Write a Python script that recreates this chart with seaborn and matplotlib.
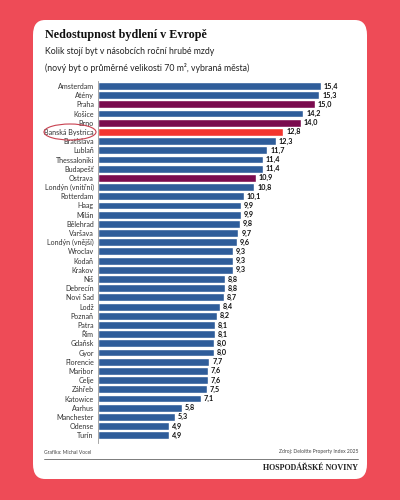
import pandas as pd
import seaborn as sns
import matplotlib.pyplot as plt
from matplotlib.patches import FancyBboxPatch, Ellipse
from matplotlib.lines import Line2D

cities = ['Amsterdam', 'Atény', 'Praha', 'Košice', 'Brno', 'Banská Bystrica',
          'Bratislava', 'Lublaň', 'Thessaloniki', 'Budapešť', 'Ostrava',
          'Londýn (vnitřní)', 'Rotterdam', 'Haag', 'Milán', 'Bělehrad', 'Varšava',
          'Londýn (vnější)', 'Wroclav', 'Kodaň', 'Krakov', 'Niš', 'Debrecín',
          'Novi Sad', 'Lodž', 'Poznaň', 'Patra', 'Řím', 'Gdaňsk', 'Gyor',
          'Florencie', 'Maribor', 'Celje', 'Záhřeb', 'Katowice', 'Aarhus',
          'Manchester', 'Odense', 'Turín']
values = [15.4, 15.3, 15.0, 14.2, 14.0, 12.8, 12.3, 11.7, 11.4, 11.4, 10.9,
          10.8, 10.1, 9.9, 9.9, 9.8, 9.7, 9.6, 9.3, 9.3, 9.3, 8.8, 8.8, 8.7,
          8.4, 8.2, 8.1, 8.1, 8.0, 8.0, 7.7, 7.6, 7.6, 7.5, 7.1, 5.8, 5.3,
          4.9, 4.9]
czech = ['Praha', 'Brno', 'Ostrava']
highlight = 'Banská Bystrica'

BLUE = '#2F5D9A'
PURPLE = '#7A0B4E'
RED = '#F3352F'

df = pd.DataFrame({'city': cities, 'value': values})
palette = {c: (RED if c == highlight else PURPLE if c in czech else BLUE) for c in cities}

sns.set_style('white')
plt.rcParams['font.family'] = ['Lato', 'DejaVu Sans']

fig = plt.figure(figsize=(4, 5), dpi=100)
fig.patch.set_facecolor('#EE4B57')

# white card behind everything
card = FancyBboxPatch((33 / 400, 1 - 479 / 500), 334 / 400, 459 / 500,
                      boxstyle='round,pad=0,rounding_size=0.03',
                      transform=fig.transFigure, facecolor='white',
                      edgecolor='none', zorder=-10)
fig.patches.append(card)

n = len(cities)
top_px, step = 86, (438 - 86) / (n - 1)
ax_top = 1 - (top_px - step / 2) / 500
ax_bot = 1 - (top_px + step * (n - 0.5)) / 500
ax = fig.add_axes([98 / 400, ax_bot, 246 / 400, ax_top - ax_bot])
ax.set_zorder(5)
ax.set_facecolor('none')

sns.barplot(data=df, x='value', y='city', hue='city', palette=palette,
            legend=False, width=0.86, ax=ax, saturation=1)

ax.set_xlim(0, 17)
ax.set_ylim(n - 0.5 + 0.3, -0.5)
ax.set_xlabel('')
ax.set_ylabel('')
ax.set_xticks([])
for s in ['top', 'right', 'bottom']:
    ax.spines[s].set_visible(False)
ax.spines['left'].set_color('#999999')
ax.spines['left'].set_linewidth(0.6)
ax.tick_params(axis='y', length=0, pad=3, labelsize=5.1, labelcolor='#333333')

for i, v in enumerate(values):
    ax.text(v + 0.2, i, f'{v:.1f}'.replace('.', ','), va='center', ha='left',
            fontsize=5.2, fontweight='bold', color='#111111')

fig.text(45 / 400, 1 - 35 / 500, 'Nedostupnost bydlení v Evropě',
         family='Liberation Serif', fontweight='bold', fontsize=8.7,
         va='center', ha='left', color='#111111', zorder=6)
fig.text(45 / 400, 1 - 52 / 500, 'Kolik stojí byt v násobcích roční hrubé mzdy',
         fontsize=6.3, va='center', ha='left', color='#222222', zorder=6)
fig.text(45 / 400, 1 - 68 / 500,
         '(nový byt o průměrné velikosti 70 m², vybraná města)',
         fontsize=6.3, va='center', ha='left', color='#222222', zorder=6)

# circle around Banská Bystrica
fig.patches.append(Ellipse((70 / 400, 1 - 132 / 500), 52 / 400, 16 / 500,
                           transform=fig.transFigure, fill=False,
                           edgecolor='#C8404F', linewidth=0.8, zorder=7))

fig.text(44 / 400, 1 - 452 / 500, 'Grafika: Michal Vocel', fontsize=3.6,
         va='center', ha='left', color='#444444', zorder=6)
fig.text(358 / 400, 1 - 452 / 500, 'Zdroj: Deloitte Property Index 2025',
         fontsize=3.6, va='center', ha='right', color='#444444', zorder=6)
fig.lines.append(Line2D([44 / 400, 358 / 400], [1 - 459 / 500] * 2,
                        transform=fig.transFigure, color='#666666',
                        linewidth=0.6, zorder=6))
fig.text(358 / 400, 1 - 468 / 500, 'HOSPODÁŘSKÉ NOVINY', family='Liberation Serif',
         fontweight='bold', fontsize=5.8, va='center', ha='right', color='#222222',
         zorder=6)

fig.savefig('out.png', dpi=100, facecolor=fig.get_facecolor())
